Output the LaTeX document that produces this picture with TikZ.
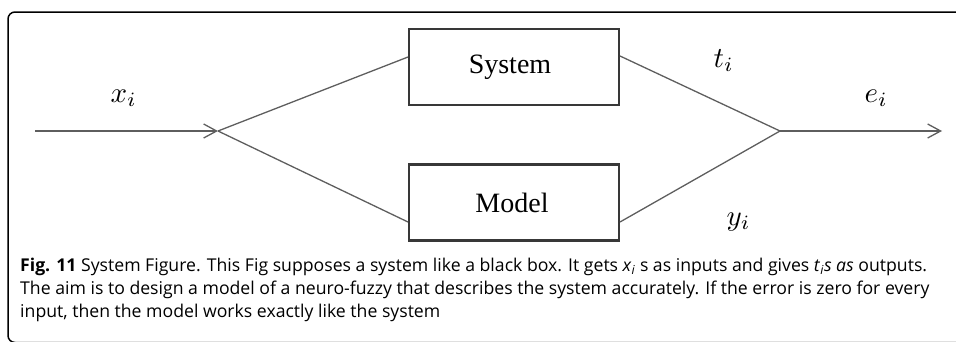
\documentclass[tikz,border=0pt]{standalone}
\usepackage{fontspec}
\setmainfont{Open Sans}
\newfontfamily\serifbox{Liberation Serif}
\usetikzlibrary{arrows.meta}
\definecolor{linegray}{HTML}{5E5E5E}
\definecolor{boxgray}{HTML}{383838}
\tikzset{
  conn/.style={draw=linegray, line width=1.3pt},
  arr/.style={conn, -{Straight Barb[length=13pt, width=14pt, line width=1.3pt]}},
  blockbox/.style={draw=boxgray, line width=2.2pt, minimum width=210pt, minimum height=76pt, inner sep=0pt},
  blocktext/.style={font=\serifbox\fontsize{28}{30}\selectfont, anchor=base},
  mlabel/.style={scale=2.9, anchor=base west, inner sep=0pt},
  captext/.style={font=\fontsize{17.65}{23}\selectfont, anchor=base west, inner sep=0pt, align=left}
}
\begin{document}
\begin{tikzpicture}[x=1pt, y=-1pt]
\useasboundingbox (0,0) rectangle (956,341);
\begin{scope}
\clip (0,0) rectangle (956,341);
\draw[line width=1.5pt, rounded corners=7pt] (965,12) -- (8,12) -- (8,342.5) -- (965,342.5);
\end{scope}
% boxes
\node[blockbox] (sys) at (514,67) {};
\node[blockbox] (mod) at (514,202.5) {};
\node[blocktext] (systxt) at (510,73) {System};
\node[blocktext] (modtxt) at (512,212) {Model};
% coordinates
\coordinate (in) at (35,131);
\coordinate (j1) at (218,131);
\coordinate (j2) at (780,131);
\coordinate (out) at (942,131);
\coordinate (sysin) at (408,57);
\coordinate (sysout) at (620,56);
\coordinate (modin) at (408,222);
\coordinate (modout) at (620,222);
% connectors
\draw[arr] (in) -- (j1);
\draw[conn] (j1) -- (sysin);
\draw[conn] (j1) -- (modin);
\draw[conn] (sysout) -- (j2);
\draw[conn] (modout) -- (j2);
\draw[arr] (j2) -- (out);
% labels
\node[mlabel] (xl) at (110,102) {$x_i$};
\node[mlabel] (tl) at (713,67) {$t_i$};
\node[mlabel] (el) at (864,102) {$e_i$};
\node[mlabel] (yl) at (726,225) {$y_i$};
% caption
\node[captext] (cap1) at (20,271) {\textbf{Fig. 11} System Figure. This Fig supposes a system like a black box. It gets \textit{x}\textsubscript{\textit{i}} s as inputs and gives \textit{t}\textsubscript{\textit{i}}\textit{s as} outputs.};
\node[captext] (cap2) at (20,294) {The aim is to design a model of a neuro-fuzzy that describes the system accurately. If the error is zero for every};
\node[captext] (cap3) at (20,317) {input, then the model works exactly like the system};
\end{tikzpicture}
\end{document}
